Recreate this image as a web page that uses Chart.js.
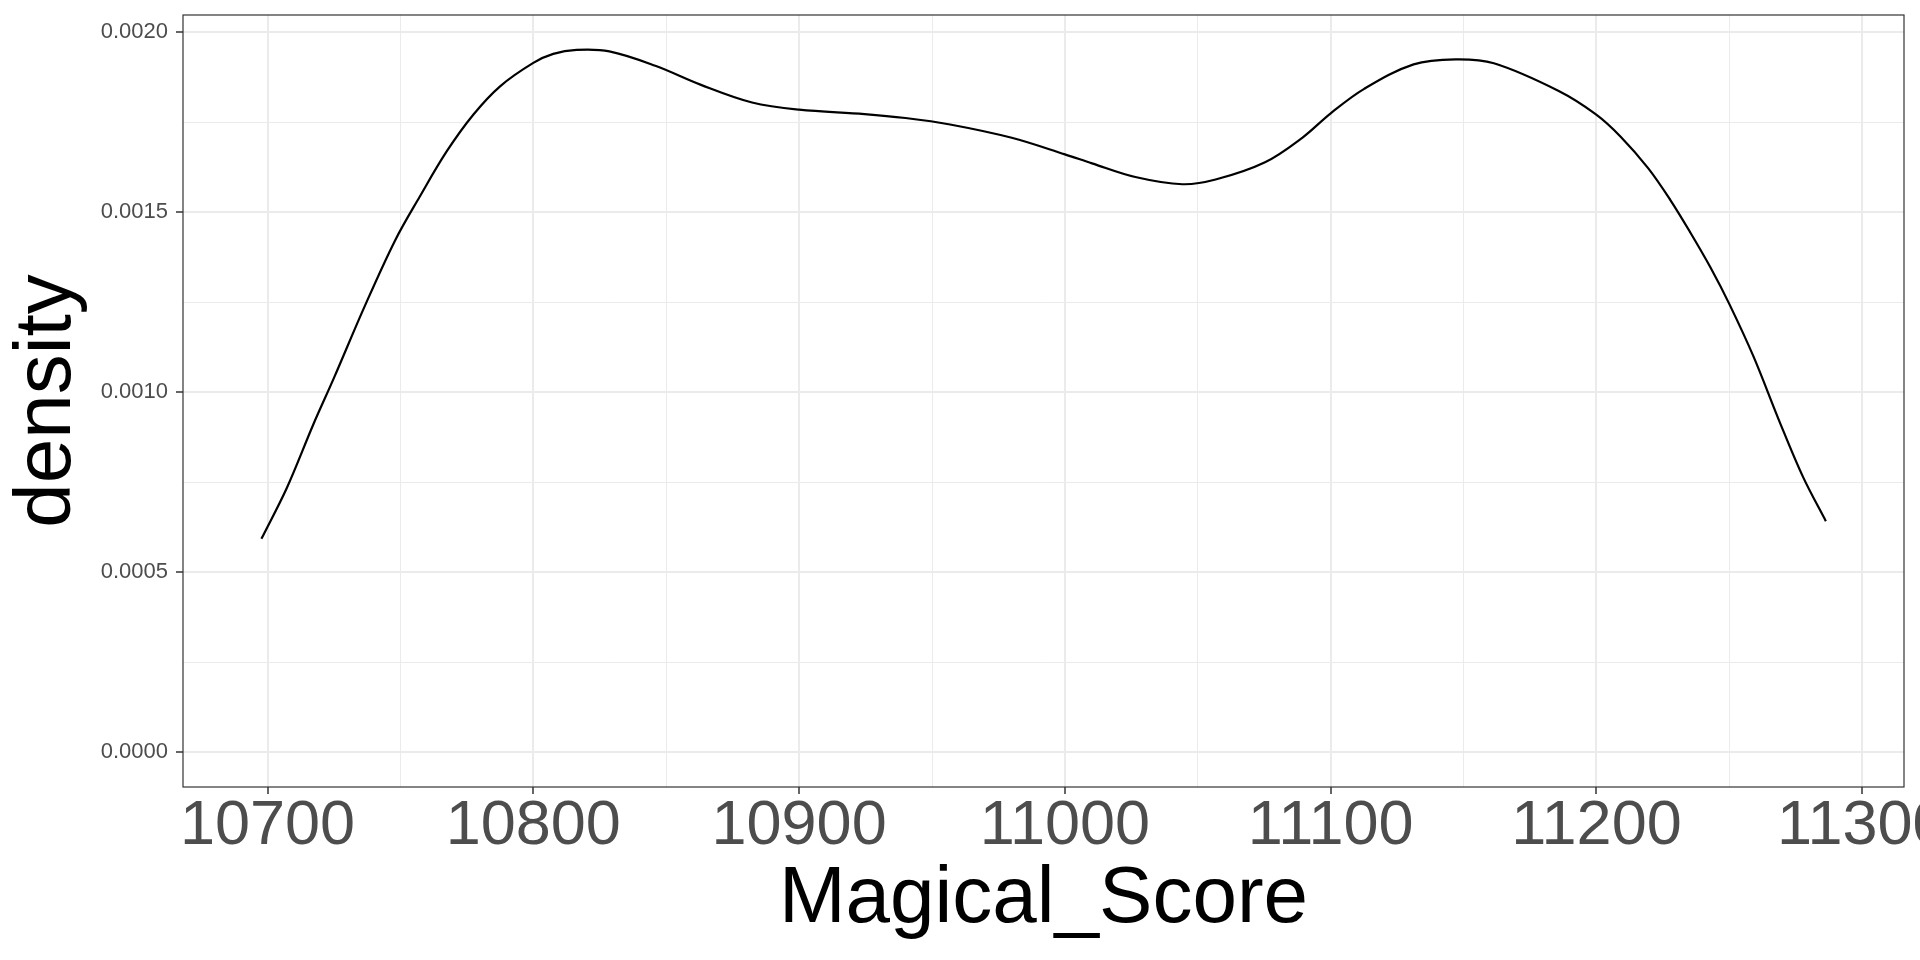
<!DOCTYPE html>
<html>
<head>
<meta charset="utf-8">
<title>Magical_Score density</title>
<script src="https://cdn.jsdelivr.net/npm/chart.js@4/dist/chart.umd.min.js"></script>
<style>
    html, body { margin: 0; padding: 0; background: #ffffff; }
    #densityChart { display: block; }
</style>
</head>
<body>
<canvas id="densityChart" width="1920" height="960"></canvas>
<script>
// Density curve values
const scoreValues = [
    10697.7, 10707.3, 10717.3, 10725.0, 10736.5, 10748.0, 10757.3, 10767.4, 10777.4, 10787.5,
    10800.0, 10807.5, 10816.3, 10828.6, 10845.9, 10863.1, 10882.3, 10900.0, 10924.6, 10940.0,
    10956.8, 10980.0, 11000.0, 11010.2, 11026.5, 11044.2, 11056.7, 11075.3, 11089.3, 11100.0,
    11112.6, 11131.2, 11147.0, 11161.4, 11185.8, 11199.8, 11209.1, 11219.5, 11227.8, 11235.3,
    11242.8, 11250.0, 11259.1, 11268.9, 11277.7, 11286.3
];
const densityValues = [
    0.000593, 0.000735, 0.000912, 0.001040, 0.001238, 0.001422, 0.001544, 0.001669, 0.001771, 0.001850,
    0.001915, 0.001940, 0.001951, 0.001947, 0.001907, 0.001854, 0.001805, 0.001785, 0.001773, 0.001762,
    0.001744, 0.001707, 0.001661, 0.001636, 0.001598, 0.001578, 0.001591, 0.001639, 0.001707, 0.001775,
    0.001843, 0.001911, 0.001925, 0.001914, 0.001837, 0.001772, 0.001710, 0.001622, 0.001534, 0.001444,
    0.001348, 0.001245, 0.001099, 0.000918, 0.000765, 0.000642
];

// Axis ticks (major get labels, minor only get a light grid line)
const xMajorTicks = [10700, 10800, 10900, 11000, 11100, 11200, 11300];
const xMinorTicks = [10750, 10850, 10950, 11050, 11150, 11250];
const yMajorTicks = [0, 0.0005, 0.0010, 0.0015, 0.0020];
const yMinorTicks = [0.00025, 0.00075, 0.00125, 0.00175];

const xRange = [10668.2, 11315.7];
const yRange = [-0.0000964, 0.0020481];

const FONT = '"Liberation Sans", Arial, Helvetica, sans-serif';

function isMajor(list, value) {
    return list.some(v => Math.abs(v - value) < 1e-9);
}

function tickList(major, minor) {
    return major.concat(minor).sort((a, b) => a - b).map(v => ({ value: v }));
}

// Panel border like theme_bw
const panelBorder = {
    id: 'panelBorder',
    afterDraw(chart) {
        const { ctx, chartArea } = chart;
        ctx.save();
        ctx.strokeStyle = '#333333';
        ctx.lineWidth = 1.2;
        ctx.strokeRect(chartArea.left, chartArea.top,
            chartArea.right - chartArea.left, chartArea.bottom - chartArea.top);
        ctx.restore();
    }
};

const ctx = document.getElementById('densityChart').getContext('2d');
const densityChart = new Chart(ctx, {
    type: 'line',
    data: {
        datasets: [{
            data: scoreValues.map((x, i) => ({ x: x, y: densityValues[i] })),
            borderColor: '#000000',
            borderWidth: 2.2,
            pointRadius: 0,
            fill: false,
            tension: 0.35
        }]
    },
    options: {
        responsive: false,
        animation: false,
        devicePixelRatio: 1,
        layout: {
            padding: { top: 15, right: 16, left: 0, bottom: 0 }
        },
        plugins: {
            legend: { display: false },
            tooltip: { enabled: false }
        },
        scales: {
            x: {
                type: 'linear',
                min: xRange[0],
                max: xRange[1],
                afterBuildTicks: function(scale) {
                    scale.ticks = tickList(xMajorTicks, xMinorTicks);
                },
                afterFit: function(scale) {
                    scale.height = 173;
                    scale.paddingLeft = 0;
                    scale.paddingRight = 0;
                },
                border: { display: false },
                grid: {
                    color: '#ebebeb',
                    lineWidth: c => isMajor(xMajorTicks, c.tick.value) ? 2 : 1,
                    drawTicks: true,
                    tickLength: 7,
                    tickWidth: 1.5,
                    tickColor: c => isMajor(xMajorTicks, c.tick.value) ? '#333333' : 'rgba(0,0,0,0)'
                },
                ticks: {
                    autoSkip: false,
                    maxRotation: 0,
                    minRotation: 0,
                    padding: 1,
                    color: '#4d4d4d',
                    font: { family: FONT, size: 63, lineHeight: 1 },
                    callback: function(value) {
                        return isMajor(xMajorTicks, value) ? String(value) : '';
                    }
                },
                title: {
                    display: true,
                    text: 'Magical_Score',
                    color: '#000000',
                    font: { family: FONT, size: 80, lineHeight: 1.2 },
                    padding: { top: 0, bottom: 12 }
                }
            },
            y: {
                type: 'linear',
                min: yRange[0],
                max: yRange[1],
                afterBuildTicks: function(scale) {
                    scale.ticks = tickList(yMajorTicks, yMinorTicks);
                },
                afterFit: function(scale) {
                    scale.width = 183;
                    scale.paddingTop = 0;
                    scale.paddingBottom = 0;
                },
                border: { display: false },
                grid: {
                    color: '#ebebeb',
                    lineWidth: c => isMajor(yMajorTicks, c.tick.value) ? 2 : 1,
                    drawTicks: true,
                    tickLength: 7,
                    tickWidth: 1.5,
                    tickColor: c => isMajor(yMajorTicks, c.tick.value) ? '#333333' : 'rgba(0,0,0,0)'
                },
                ticks: {
                    autoSkip: false,
                    padding: 8,
                    color: '#4d4d4d',
                    font: { family: FONT, size: 22, lineHeight: 1 },
                    callback: function(value) {
                        return isMajor(yMajorTicks, value) ? value.toFixed(4) : '';
                    }
                },
                title: {
                    display: true,
                    text: 'density',
                    color: '#000000',
                    font: { family: FONT, size: 80, lineHeight: 1.1 },
                    padding: { top: 4, bottom: 0 }
                }
            }
        }
    },
    plugins: [panelBorder]
});
</script>
</body>
</html>
